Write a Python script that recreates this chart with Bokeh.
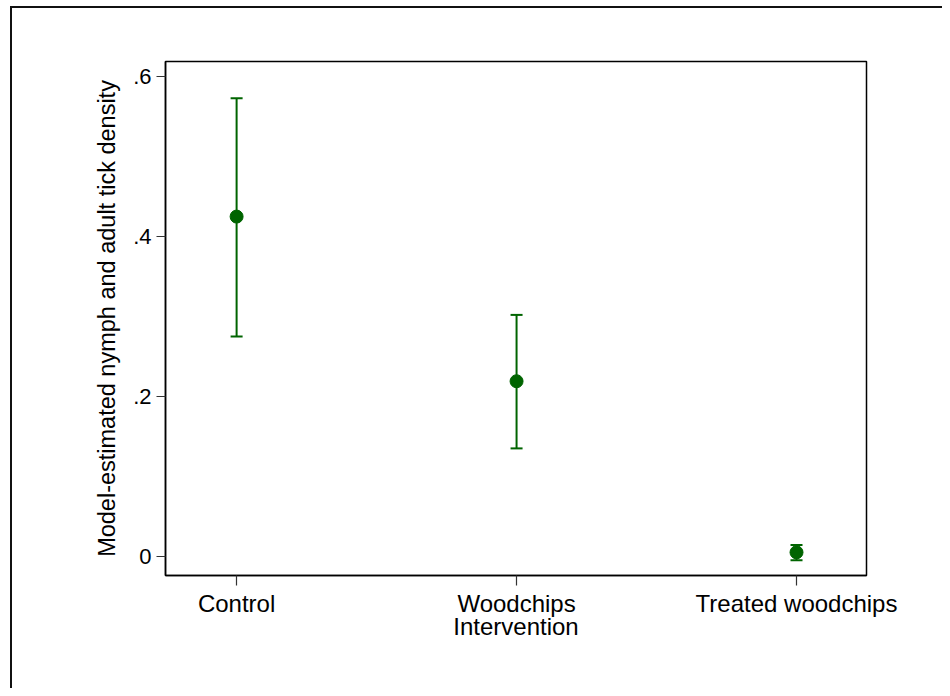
from bokeh.plotting import figure
from bokeh.models import FixedTicker, Range1d
from bokeh.embed import file_html
from bokeh.resources import INLINE

# Data
categories = ["Control", "Woodchips", "Treated woodchips"]
cat_pos = [1, 2, 3]
estimate = [0.425, 0.219, 0.005]
upper = [0.573, 0.302, 0.014]
lower = [0.275, 0.135, -0.005]
y_ticks = [0, 0.2, 0.4, 0.6]
y_tick_labels = ["0", ".2", ".4", ".6"]

GREEN = "#006400"
FONT = "Liberation Sans"

p = figure(width=942, height=688, output_backend="svg", toolbar_location=None,
           x_range=Range1d(0.746, 3.25), y_range=Range1d(-0.024, 0.619),
           min_border_left=165, min_border_right=76, min_border_top=61, min_border_bottom=113)

p.background_fill_color = "white"
p.border_fill_color = None
p.outline_line_color = "black"
p.outline_line_width = 1.5
p.xgrid.visible = False
p.ygrid.visible = False

# outer graph-region border drawn behind the transparent canvas border area
p.styles = {
    "background": ("linear-gradient(#111, #111) 10px 6px / 2px 100% no-repeat, "
                   "linear-gradient(#111, #111) 10px 6px / 100% 2px no-repeat, white"),
}

# error bars
p.segment(x0=cat_pos, y0=lower, x1=cat_pos, y1=upper, line_color=GREEN, line_width=2)
p.scatter(x=cat_pos, y=upper, marker="dash", size=12, line_color=GREEN, line_width=2)
p.scatter(x=cat_pos, y=lower, marker="dash", size=12, line_color=GREEN, line_width=2)
p.scatter(x=cat_pos, y=estimate, marker="circle", size=13, fill_color=GREEN, line_color=GREEN)

# axes
p.yaxis.ticker = FixedTicker(ticks=y_ticks)
p.yaxis.major_label_overrides = {t: l for t, l in zip(y_ticks, y_tick_labels)}
p.xaxis.ticker = FixedTicker(ticks=cat_pos)
p.xaxis.major_label_overrides = {c: l for c, l in zip(cat_pos, categories)}

for ax in (p.xaxis[0], p.yaxis[0]):
    ax.minor_tick_line_color = None
    ax.major_tick_in = 0
    ax.axis_line_color = "black"
    ax.axis_line_width = 1.5
    ax.major_tick_line_color = "#333333"
    ax.major_tick_line_width = 1.2
    ax.major_label_text_font = FONT
    ax.major_label_text_color = "black"
    ax.axis_label_text_font = FONT
    ax.axis_label_text_font_style = "normal"
    ax.axis_label_text_color = "black"

p.yaxis.major_tick_out = 9
p.yaxis.major_label_text_font_size = "22px"
p.yaxis.major_label_standoff = 5
p.yaxis.major_label_orientation = "horizontal"
p.yaxis.axis_label = "Model-estimated nymph and adult tick density"
p.yaxis.axis_label_text_font_size = "23.5px"
p.yaxis.axis_label_standoff = 10

p.xaxis.major_tick_out = 10
p.xaxis.major_label_text_font_size = "24px"
p.xaxis.major_label_standoff = 4
p.xaxis.axis_label = "Intervention"
p.xaxis.axis_label_text_font_size = "24px"
p.xaxis.axis_label_standoff = -7

open("out.html", "w").write(file_html(p, INLINE))
